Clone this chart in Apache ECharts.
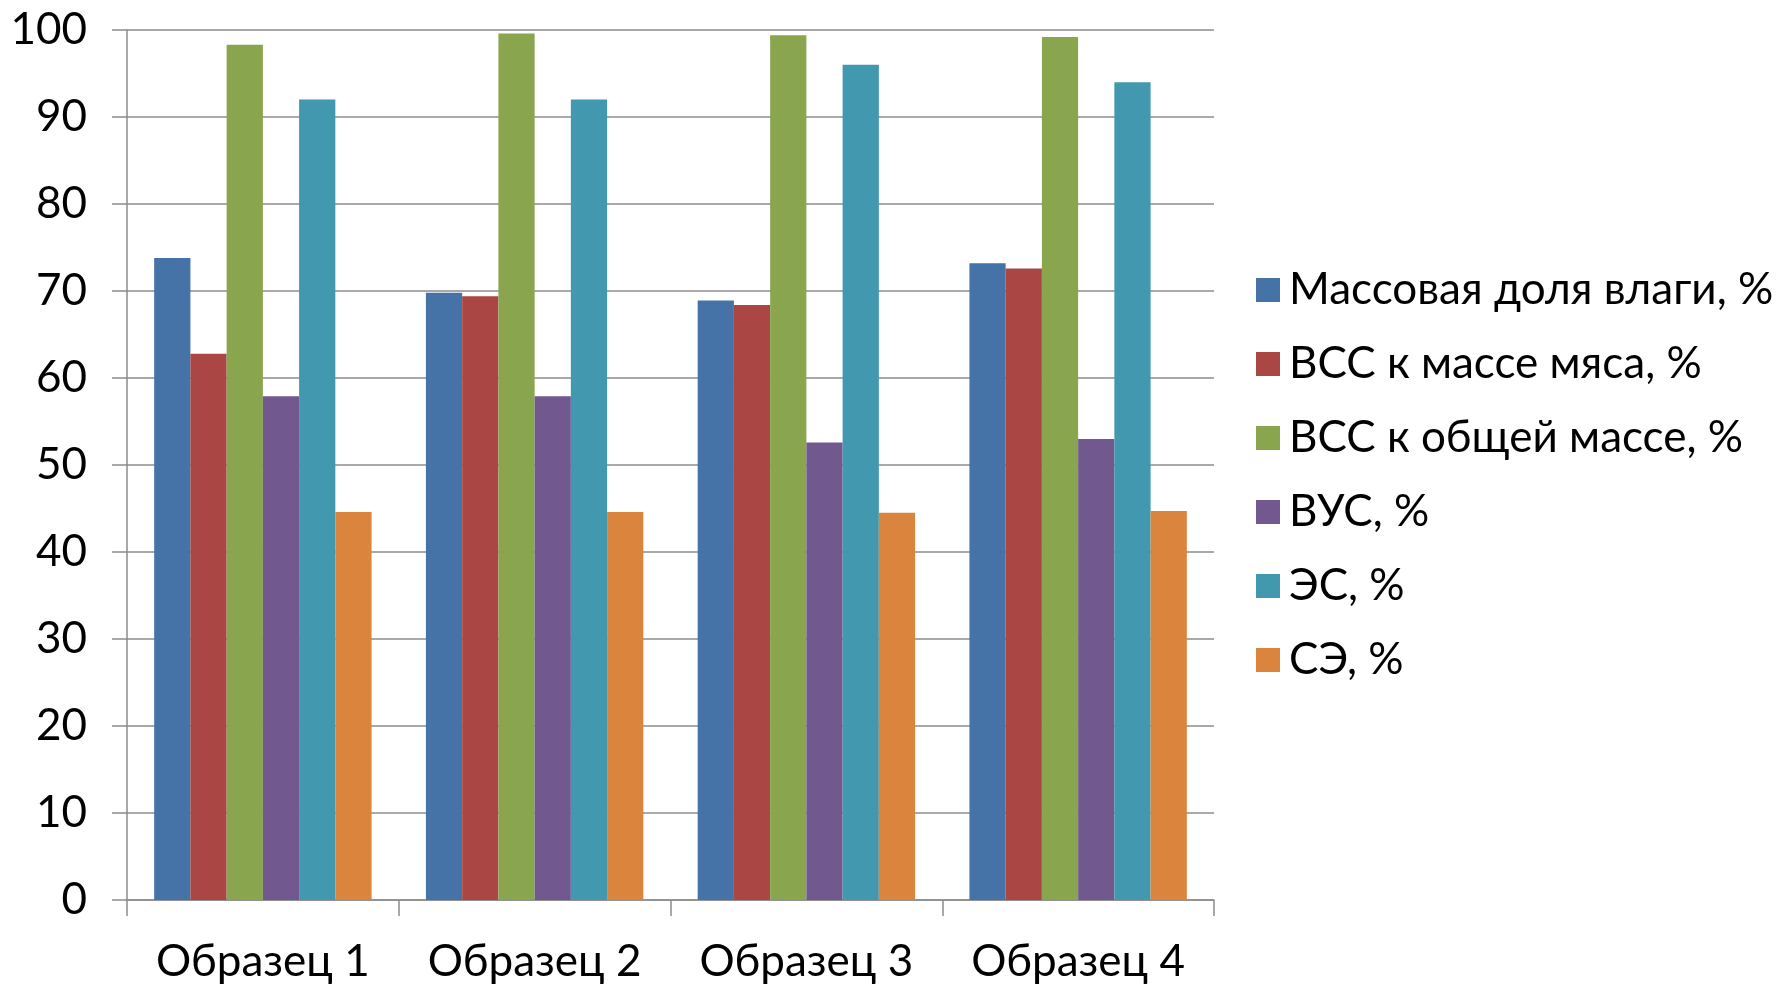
<!DOCTYPE html>
<html>
<head>
<meta charset="utf-8">
<style>
  html, body { margin: 0; padding: 0; background: #fff; }
  #chart { width: 1783px; height: 986px; }
</style>
<script src="https://cdn.jsdelivr.net/npm/echarts@6/dist/echarts.min.js"></script>
</head>
<body>
<div id="chart"></div>
<script>
// Samples on the category axis
const categories = ['Образец 1', 'Образец 2', 'Образец 3', 'Образец 4'];

// Series names (legend order)
const seriesNames = [
  'Массовая доля влаги, %',
  'ВСС к массе мяса, %',
  'ВСС к общей массе, %',
  'ВУС, %',
  'ЭС, %',
  'СЭ, %'
];

// Values per series, one per sample
const moisture    = [73.8, 69.8, 68.9, 73.2];
const wbcMeat     = [62.8, 69.4, 68.4, 72.6];
const wbcTotal    = [98.3, 99.6, 99.4, 99.2];
const wrc         = [57.9, 57.9, 52.6, 53.0];
const emulsStab   = [92.0, 92.0, 96.0, 94.0];
const emulsCap    = [44.6, 44.6, 44.5, 44.7];

// Y axis tick values
const yTicks = [0, 10, 20, 30, 40, 50, 60, 70, 80, 90, 100];

const seriesValues = [moisture, wbcMeat, wbcTotal, wrc, emulsStab, emulsCap];
const colors = ['#4572A7', '#AA4643', '#89A54E', '#71588F', '#4198AF', '#DB843D'];

const FONT = 'Lato, "Open Sans", "Noto Sans", sans-serif';
const gridGray = '#8c8c8c';

const chart = echarts.init(document.getElementById('chart'), null, { renderer: 'canvas' });

chart.setOption({
  animation: false,
  backgroundColor: '#ffffff',
  color: colors,
  grid: { left: 127, right: 569, top: 30, bottom: 86, containLabel: false },
  legend: {
    orient: 'vertical',
    left: 1251,
    top: 263,
    itemWidth: 24,
    itemHeight: 24,
    itemGap: 30,
    icon: 'rect',
    data: seriesNames,
    textStyle: { fontFamily: FONT, fontSize: 44, color: '#000', lineHeight: 40, padding: [0, 0, 0, 4] }
  },
  xAxis: {
    type: 'category',
    data: categories,
    axisLine: { show: true, lineStyle: { color: gridGray, width: 1.5 } },
    axisTick: { show: true, interval: 0, length: 16, lineStyle: { color: gridGray, width: 1.5 } },
    axisLabel: { interval: 0, fontFamily: FONT, fontSize: 44, color: '#000', margin: 42, lineHeight: 40 },
    splitLine: { show: false }
  },
  yAxis: {
    type: 'value',
    min: yTicks[0],
    max: yTicks[yTicks.length - 1],
    interval: yTicks[1] - yTicks[0],
    axisLine: { show: true, lineStyle: { color: gridGray, width: 1.5 } },
    axisTick: { show: true, length: 15, lineStyle: { color: gridGray, width: 1.5 } },
    axisLabel: { fontFamily: FONT, fontSize: 44, color: '#000', margin: 40 },
    splitLine: { show: true, lineStyle: { color: gridGray, width: 1.5 } }
  },
  series: seriesNames.map((name, i) => ({
    name,
    type: 'bar',
    data: seriesValues[i],
    barGap: '0%',
    barCategoryGap: '20%',
    itemStyle: { color: colors[i] }
  }))
});
</script>
</body>
</html>
